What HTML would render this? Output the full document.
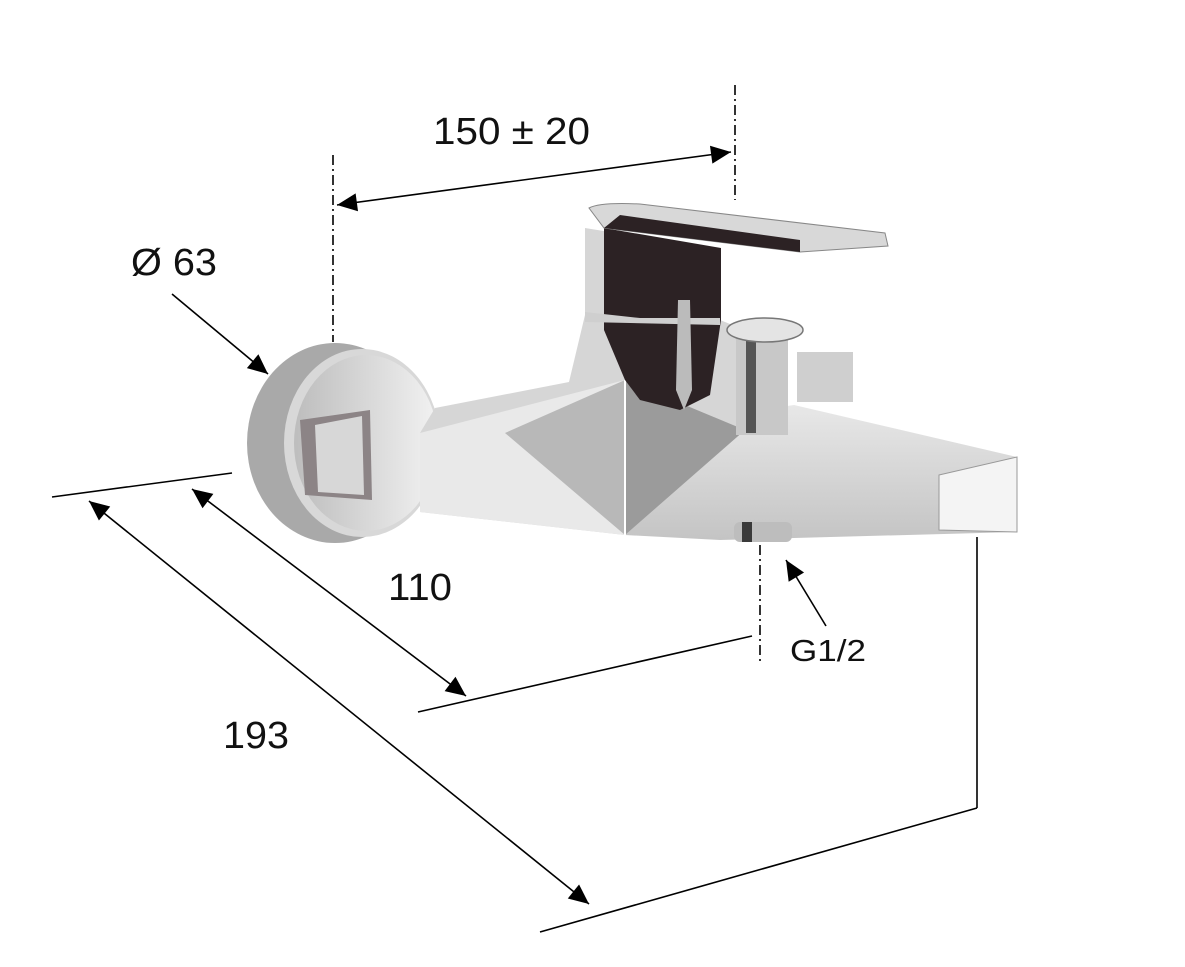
<!DOCTYPE html>
<html><head><meta charset="utf-8"><style>
html,body{margin:0;padding:0;background:#fff;}
svg{display:block;}
text{font-family:"Liberation Sans",Arial,sans-serif;fill:#111;}
</style></head><body>
<svg width="1185" height="967" viewBox="0 0 1185 967" xmlns="http://www.w3.org/2000/svg">
<defs>
<marker id="a2" viewBox="0 0 10 10" refX="10" refY="5" markerWidth="26" markerHeight="20" markerUnits="userSpaceOnUse" orient="auto-start-reverse">
<path d="M0,0.5 L10,5 L0,9.5 z" fill="#000"/></marker>
<linearGradient id="g1" x1="0" y1="0" x2="1" y2="0"><stop offset="0" stop-color="#bdbdbd"/><stop offset="1" stop-color="#f2f2f2"/></linearGradient>
<linearGradient id="g2" x1="0" y1="0" x2="0" y2="1"><stop offset="0" stop-color="#e8e8e8"/><stop offset="1" stop-color="#c4c4c4"/></linearGradient>
</defs>
<g stroke="#000" stroke-width="1.6" fill="none">
<line x1="333" y1="155" x2="333" y2="342" stroke-dasharray="10,4,2,4"/>
<line x1="735" y1="85" x2="735" y2="200" stroke-dasharray="10,4,2,4"/>
<line x1="760" y1="545" x2="760" y2="662" stroke-dasharray="10,4,2,4"/>
<line x1="337" y1="205" x2="731" y2="152" marker-start="url(#a2)" marker-end="url(#a2)"/>
<line x1="172" y1="294" x2="268" y2="374" marker-end="url(#a2)"/>
<line x1="52" y1="497" x2="232" y2="473"/>
<line x1="192" y1="489" x2="466" y2="696" marker-start="url(#a2)" marker-end="url(#a2)"/>
<line x1="418" y1="712" x2="752" y2="636"/>
<line x1="89" y1="501" x2="589" y2="904" marker-start="url(#a2)" marker-end="url(#a2)"/>
<line x1="540" y1="932" x2="977" y2="808"/>
<line x1="977" y1="537" x2="977" y2="808"/>
<line x1="826" y1="626" x2="786" y2="560" marker-end="url(#a2)"/>
</g>
<!-- faucet -->
<ellipse cx="335" cy="443" rx="88" ry="100" fill="#a9a9a9"/>
<ellipse cx="362" cy="443" rx="78" ry="94" fill="#d8d8d8"/>
<ellipse cx="366" cy="443" rx="72" ry="88" fill="url(#g1)"/>
<path d="M300,420 L370,410 L372,500 L305,495 z" fill="#8c8486"/>
<path d="M315,425 L362,416 L364,495 L318,492 z" fill="#d7d7d7"/>
<!-- spout -->
<path d="M625,430 L794,405 L1017,457 L1017,532 L720,540 L625,535 z" fill="url(#g2)"/>
<path d="M939,475 L1017,457 L1017,532 L939,530 z" fill="#f4f4f4" stroke="#999" stroke-width="1"/>
<rect x="797" y="352" width="56" height="50" fill="#cfcfcf"/>
<!-- body -->
<path d="M420,433 L435,408 L569,382 L585,315 L585,228 L720,250 L720,320 L745,330 L745,430 L625,380 L625,535 L420,512 z" fill="#d6d6d6"/>
<path d="M420,433 L625,380 L625,535 L420,512 z" fill="#e9e9e9"/>
<path d="M505,433 L625,380 L625,535 z" fill="#b8b8b8"/>
<path d="M625,380 L745,430 L625,535 z" fill="#9b9b9b"/>
<line x1="625" y1="380" x2="625" y2="535" stroke="#fff" stroke-width="2"/>
<path d="M604,228 L721,248 L721,320 L710,395 L680,410 L640,400 L625,380 L604,330 z" fill="#2c2224"/>
<path d="M585,312 L640,318 L720,318 L720,325 L585,322 z" fill="#cfcfcf"/>
<path d="M678,300 L690,300 L692,390 L684,410 L676,390 z" fill="#bbb"/>
<path d="M589,208 Q600,202 640,204 L885,233 L888,246 L800,252 L604,228 z" fill="#d8d8d8" stroke="#888" stroke-width="1"/>
<path d="M604,228 L800,252 L800,240 L620,215 z" fill="#2c2224"/>
<rect x="736" y="335" width="52" height="100" fill="#c8c8c8"/>
<rect x="746" y="338" width="10" height="95" fill="#555"/>
<ellipse cx="765" cy="330" rx="38" ry="12" fill="#e4e4e4" stroke="#777" stroke-width="1.5"/>
<rect x="734" y="522" width="58" height="20" rx="6" fill="#bdbdbd"/>
<rect x="742" y="522" width="10" height="20" fill="#3a3a3a"/>
<text x="433" y="144" font-size="38" textLength="157" lengthAdjust="spacingAndGlyphs">150 ± 20</text>
<text x="131" y="275" font-size="38" textLength="86" lengthAdjust="spacingAndGlyphs">Ø 63</text>
<text x="388" y="600" font-size="38" textLength="64" lengthAdjust="spacingAndGlyphs">110</text>
<text x="223" y="748" font-size="38" textLength="66" lengthAdjust="spacingAndGlyphs">193</text>
<text x="790" y="661" font-size="31" textLength="76" lengthAdjust="spacingAndGlyphs">G1/2</text>
</svg>
</body></html>
